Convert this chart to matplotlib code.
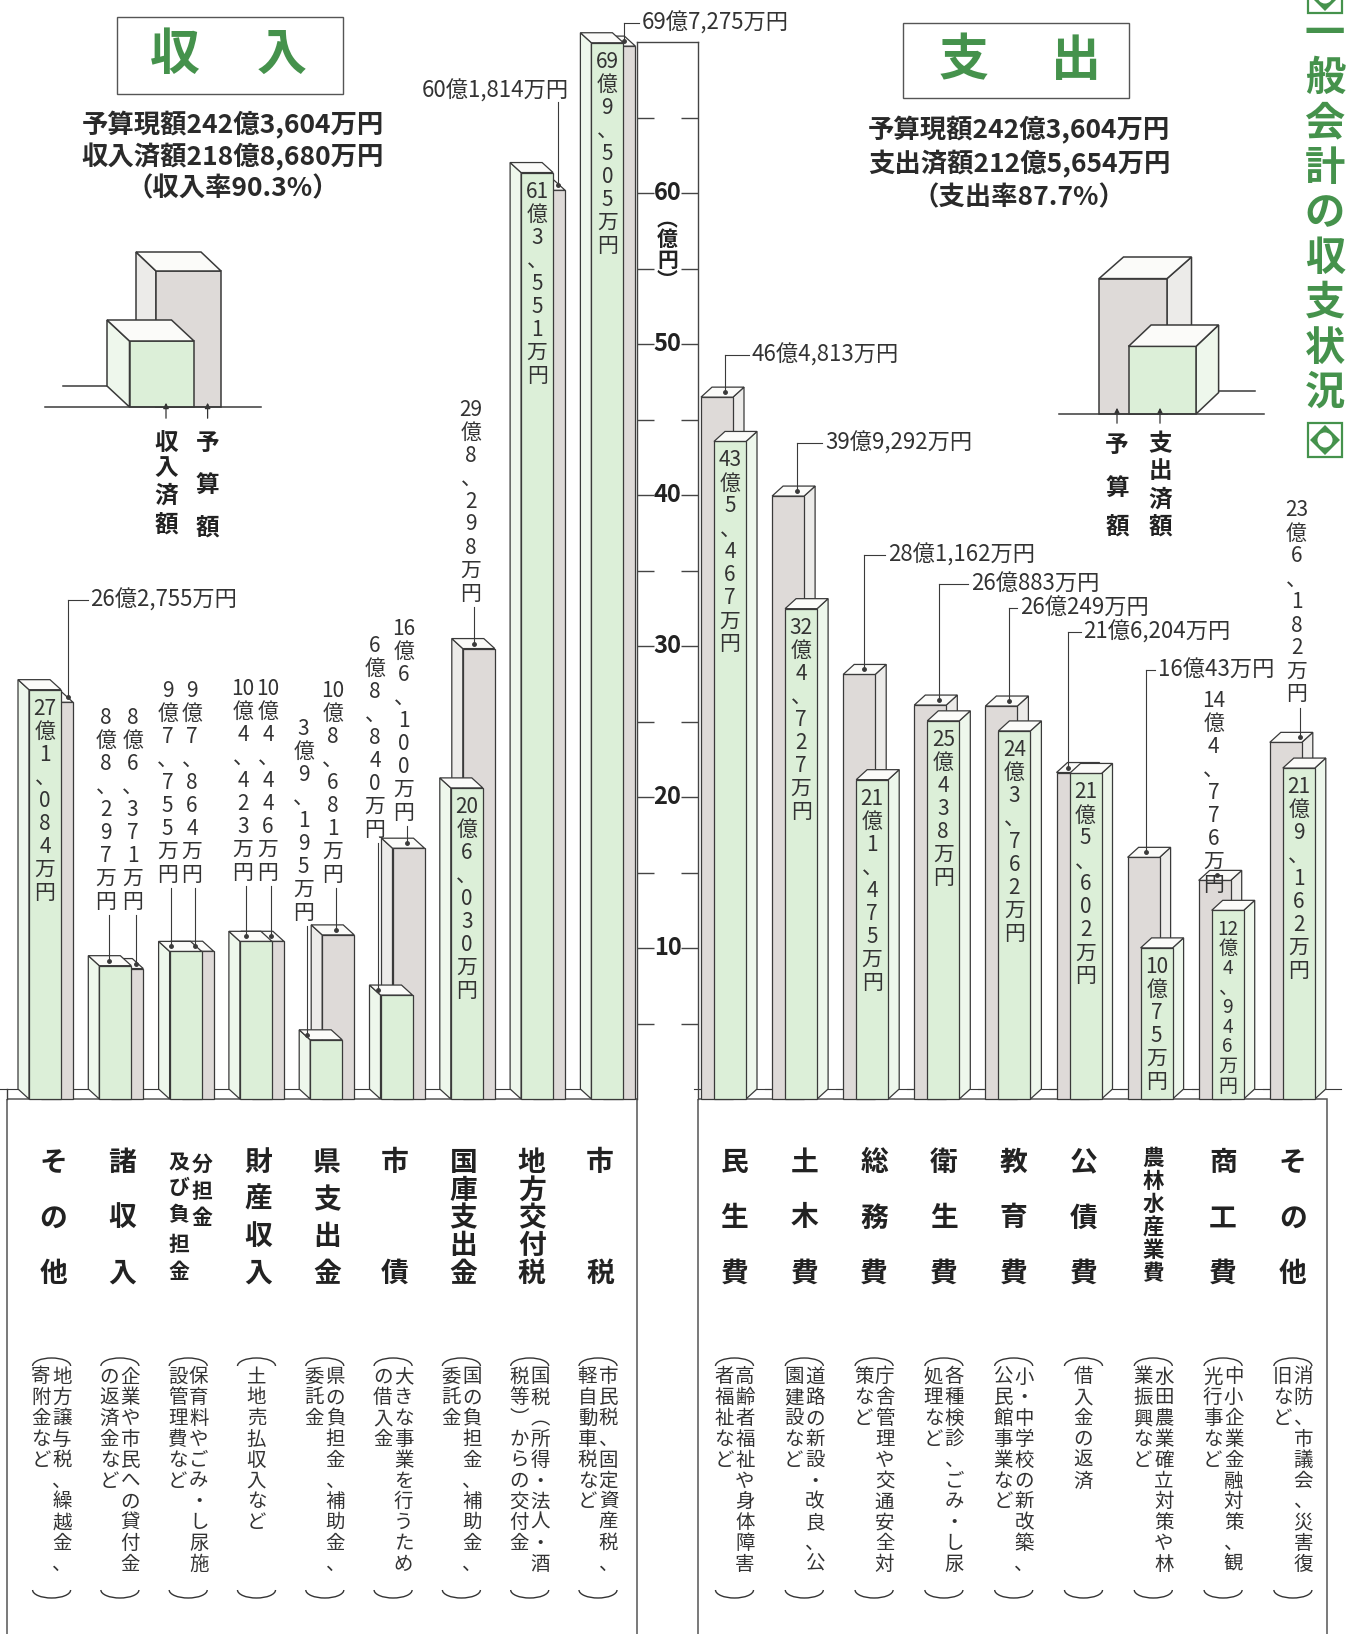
import matplotlib
matplotlib.use('Agg')
import matplotlib.pyplot as plt
import numpy as np
from matplotlib.patches import Polygon, Rectangle, Circle, Arc

plt.rcParams['font.family'] = ['Noto Sans CJK JP', 'DejaVu Sans']

# ---- データ（単位: 億円） ----
rev_cats = ['その他', '諸収入', '分担金及び負担金', '財産収入', '県支出金',
            '市債', '国庫支出金', '地方交付税', '市税']
rev_actual = [27.1084, 8.8297, 9.7755, 10.4423, 3.9195, 6.8840, 20.6030, 61.3551, 69.9505]
rev_budget = [26.2755, 8.6371, 9.7864, 10.4446, 10.8681, 16.6100, 29.8298, 60.1814, 69.7275]

exp_cats = ['民生費', '土木費', '総務費', '衛生費', '教育費', '公債費',
            '農林水産業費', '商工費', 'その他']
exp_budget = [46.4813, 39.9292, 28.1162, 26.0883, 26.0249, 21.6204, 16.0043, 14.4776, 23.6182]
exp_actual = [43.5467, 32.4727, 21.1475, 25.0438, 24.3762, 21.5602, 10.0075, 12.4946, 21.9162]

total_budget = 242.3604
total_rev = 218.8680
total_exp = 212.5654

rev_notes = [['地方譲与税、繰越金、', '寄附金など'],
             ['企業や市民への貸付金', 'の返済金など'],
             ['保育料やごみ・し尿施', '設管理費など'],
             ['土地売払収入など'],
             ['県の負担金、補助金、', '委託金'],
             ['大きな事業を行うため', 'の借入金'],
             ['国の負担金、補助金、', '委託金'],
             ['国税︵所得・法人・酒', '税等︶からの交付金'],
             ['市民税、固定資産税、', '軽自動車税など']]
exp_notes = [['高齢者福祉や身体障害', '者福祉など'],
             ['道路の新設・改良、公', '園建設など'],
             ['庁舎管理や交通安全対', '策など'],
             ['各種検診、ごみ・し尿', '処理など'],
             ['小・中学校の新改築、', '公民館事業など'],
             ['借入金の返済'],
             ['水田農業確立対策や林', '業振興など'],
             ['中小企業金融対策、観', '光行事など'],
             ['消防、市議会、災害復', '旧など']]

# ---- レイアウト (px) ----
W, H = 1346, 1634
Y0, PPU = 1099, 15.1
L_X0, L_SP = 29, 70.3
R_X0, R_SP = 701, 71.1
BW, DX, DY = 32, 11, 10

# 金額ラベルの置き方
rev_act_lab = [('in',), ('up', -9.3, 718), ('up', -18, 691), ('up', -13, 689),
               ('up', -22.6, 728.7), ('up', -21.5, 646), ('in',), ('in',), ('in',)]
rev_bud_lab = [('h', 11, 600, 22.5, 'right'), ('up', 5.3, 718), ('up', -5.6, 691),
               ('up', 0, 689), ('up', -5.6, 691), ('up', -4.5, 629), ('up', -7.8, 409.5),
               ('h', 9, 102, 11, 'left'), ('h', 4.6, 23, 18, 'right')]
exp_act_lab = [('in',)] * 9
exp_bud_lab = [('h', 8, 355, 26.5, 'right'), ('h', 9, 443, 28, 'right'),
               ('h', 5, 555, 24, 'right'), ('h', 8.6, 584, 32, 'right'),
               ('h', 8, 608, 11, 'right'), ('h', -5, 632, 16, 'right'),
               ('h', 2.4, 670, 11.5, 'right'), ('up', -1, 701), ('up', 10.7, 510.5)]

GREEN_F, GREEN_S = '#dcefd8', '#eef7ec'
GRAY_F, GRAY_S = '#dedad8', '#ecebe9'
TOP = '#fbfbf9'
EDGE = '#3a3a3a'
TXT = '#333333'
TITLE_G = '#45924c'

fig = plt.figure(figsize=(W / 100, H / 100), dpi=100)
fig.patch.set_facecolor('white')


def px_axes(x0, y0, x1, y1):
    ax = fig.add_axes([x0 / W, 1 - y1 / H, (x1 - x0) / W, (y1 - y0) / H])
    ax.set_facecolor('none')
    return ax


deco = px_axes(0, 0, W, H)
deco.set_xlim(0, W)
deco.set_ylim(H, 0)
deco.axis('off')

ax_l = px_axes(0, 0, 637, Y0)
ax_l.set_xlim(-L_X0 / L_SP, (637 - L_X0) / L_SP)
ax_r = px_axes(698, 0, W, Y0)
ax_r.set_xlim((698 - R_X0) / R_SP, (W - R_X0) / R_SP)
for ax in (ax_l, ax_r):
    ax.set_ylim(0, Y0 / PPU)
    ax.axis('off')


def vy(py):
    return (Y0 - py) / PPU


def bar3d(ax, x, w, h, dx, dy, fc_front, fc_side, z):
    front = [(x, 0), (x + w, 0), (x + w, h), (x, h)]
    top = [(x, h), (x + w, h), (x + w + dx, h + dy), (x + dx, h + dy)]
    ex = x if dx < 0 else x + w
    side = [(ex, 0), (ex, h), (ex + dx, h + dy), (ex + dx, dy)]
    for pts, fc in ((side, fc_side), (front, fc_front), (top, TOP)):
        ax.add_patch(Polygon(pts, closed=True, fc=fc, ec=EDGE, lw=0.9,
                             zorder=z, clip_on=False))


def oku_text(v):
    o = int(v)
    m = round((v - o) * 10000)
    return f'{o}億{m:,}万円'


def oku_cells(v):
    o = int(v)
    m = round((v - o) * 10000)
    return [str(o), '億'] + list(f'{m:,}'.replace(',', '、')) + ['万', '円']


def label_in(ax, xc, h):
    cells = oku_cells(h)
    n = len(cells)
    room = h * PPU - 19 - 13
    pitch = min(23, room / (n - 1))
    fs = 15 * min(1, pitch / 23 + 0.06)
    y = Y0 - h * PPU + 19
    for k, c in enumerate(cells):
        ax.text(xc, vy(y + k * pitch), c, ha='center', va='center', fontsize=fs,
                color=TXT, zorder=10, clip_on=False)


def label_up(ax, sp, xc, first_py, h, dy):
    cells = oku_cells(h)
    for k, c in enumerate(cells):
        ax.text(xc, vy(first_py + 23 * k), c, ha='center', va='center', fontsize=15,
                color=TXT, zorder=10, clip_on=False)
    y_end = vy(first_py + 23 * (len(cells) - 1) + 13)
    lxp = xc + 3 / sp
    if y_end > h + dy / 2:
        ax.plot([lxp, lxp], [y_end, h + dy / 2], color=EDGE, lw=0.8, zorder=11, clip_on=False)
    ax.plot(lxp, h + dy / 2, 'o', ms=2.5, color=EDGE, zorder=11, clip_on=False)


def label_h(ax, sp, lead_x, h, dy, top_py, text_dx, side):
    yt = vy(top_py)
    ax.plot([lead_x, lead_x], [h + dy / 2, yt], color=EDGE, lw=0.8, zorder=11, clip_on=False)
    ax.plot(lead_x, h + dy / 2, 'o', ms=2.5, color=EDGE, zorder=11, clip_on=False)
    if side == 'right':
        tx = lead_x + text_dx / sp
        ax.plot([lead_x, tx - 3 / sp], [yt, yt], color=EDGE, lw=0.8, zorder=11, clip_on=False)
        ax.text(tx, yt, oku_text(h), ha='left', va='center', fontsize=16,
                color=TXT, zorder=11, clip_on=False)
    else:
        ax.text(lead_x + text_dx / sp, vy(top_py - 11), oku_text(h), ha='right',
                va='center', fontsize=16, color=TXT, zorder=11, clip_on=False)


def put_label(ax, sp, lab, xc, h, dy):
    if lab[0] == 'in':
        label_in(ax, xc, h)
    elif lab[0] == 'up':
        label_up(ax, sp, xc + lab[1] / sp, lab[2], h, dy)
    else:
        label_h(ax, sp, xc + lab[1] / sp, h, dy, lab[2], lab[3], lab[4])


# ---- 収入の棒 ----
dy = DY / PPU
bw_l = BW / L_SP
for i in range(len(rev_cats)):
    gx = i + 12 / L_SP
    ax_l.plot([gx - 0.9, gx + 0.2], [dy, dy], color=EDGE, lw=0.8, zorder=1, clip_on=False)
    bar3d(ax_l, gx, bw_l, rev_budget[i], -DX / L_SP, dy, GRAY_F, GRAY_S, 2)
    bar3d(ax_l, i, bw_l, rev_actual[i], -DX / L_SP, dy, GREEN_F, GREEN_S, 3)
    put_label(ax_l, L_SP, rev_act_lab[i], i + bw_l / 2, rev_actual[i], dy)
    put_label(ax_l, L_SP, rev_bud_lab[i], gx + bw_l / 2, rev_budget[i], dy)

# ---- 支出の棒 ----
bw_r = BW / R_SP
for i in range(len(exp_cats)):
    gx = i + 13 / R_SP
    ax_r.plot([i - 0.1, i + 1.0], [dy, dy], color=EDGE, lw=0.8, zorder=1, clip_on=False)
    bar3d(ax_r, i, bw_r, exp_budget[i], DX / R_SP, dy, GRAY_F, GRAY_S, 2)
    bar3d(ax_r, gx, bw_r, exp_actual[i], DX / R_SP, dy, GREEN_F, GREEN_S, 3)
    put_label(ax_r, R_SP, exp_act_lab[i], gx + bw_r / 2, exp_actual[i], dy)
    put_label(ax_r, R_SP, exp_bud_lab[i], i + bw_r / 2, exp_budget[i], dy)

# ---- 中央の目盛り ----
ax_s = px_axes(637, 41.5, 698, Y0)
ax_s.set_ylim(0, (Y0 - 41.5) / PPU)
ax_s.set_xlim(0, 1)
ax_s.spines['bottom'].set_visible(False)
for s in ('left', 'right', 'top'):
    ax_s.spines[s].set_color('#444')
    ax_s.spines[s].set_linewidth(1.0)
ax_s.set_xticks([])
ax_s.set_yticks(np.arange(5, 70, 5))
ax_s.tick_params(axis='y', direction='in', length=12.5, width=1.0, color='#444',
                 left=True, right=True, labelleft=False, labelright=False)
for v in range(10, 70, 10):
    ax_s.text(0.5, v, str(v), ha='center', va='center', fontsize=17,
              fontweight='bold', color='#222')
ax_s.text(0.5, vy(250), '︵\n億\n円\n︶', ha='center', va='center', fontsize=15,
          linespacing=0.95, multialignment='center', fontweight='bold', color='#222')

# ---- 見出し ----
deco.add_patch(Rectangle((117, 17), 226, 77, fc='white', ec='#555', lw=1.0))
deco.add_patch(Rectangle((903, 23), 226, 75, fc='white', ec='#555', lw=1.0))
for ch, x, y in (('収', 175, 55), ('入', 282, 55), ('支', 964, 61), ('出', 1076, 61)):
    deco.text(x, y, ch, ha='center', va='center', fontsize=36, fontweight='bold',
              color=TITLE_G)

rev_lines = [f'予算現額{oku_text(total_budget)}', f'収入済額{oku_text(total_rev)}',
             f'（収入率{total_rev / total_budget * 100:.1f}%）']
exp_lines = [f'予算現額{oku_text(total_budget)}', f'支出済額{oku_text(total_exp)}',
             f'（支出率{total_exp / total_budget * 100:.1f}%）']
for k, t in enumerate(rev_lines):
    deco.text(233, 125 + 32 * k, t, ha='center', va='center', fontsize=19,
              fontweight='bold', color='#2a2a2a')
for k, t in enumerate(exp_lines):
    deco.text(1019, 130 + 34 * k, t, ha='center', va='center', fontsize=19,
              fontweight='bold', color='#2a2a2a')

# 右端の縦見出し
for k, ch in enumerate('一般会計の収支状況'):
    deco.text(1325, 34 + 44.9 * k, ch, ha='center', va='center', fontsize=29,
              fontweight='bold', color=TITLE_G)
for cy in (-4, 440):
    deco.add_patch(Rectangle((1308, cy - 17), 34, 34, fc='white', ec=TITLE_G, lw=1.6))
    deco.add_patch(Polygon([(1325, cy - 15), (1340, cy), (1325, cy + 15), (1310, cy)],
                           closed=True, fc=TITLE_G, ec='none'))
    deco.add_patch(Circle((1325, cy), 7.5, fc='white', ec='none'))


# ---- 凡例の立方体 ----
def cube(x0, x1, ytop, ybot, dx, dyy, fc_front, fc_side):
    front = [(x0, ybot), (x1, ybot), (x1, ytop), (x0, ytop)]
    top = [(x0, ytop), (x1, ytop), (x1 + dx, ytop + dyy), (x0 + dx, ytop + dyy)]
    ex = x0 if dx < 0 else x1
    side = [(ex, ybot), (ex, ytop), (ex + dx, ytop + dyy), (ex + dx, ybot + dyy)]
    for pts, fc in ((side, fc_side), (front, fc_front), (top, TOP)):
        deco.add_patch(Polygon(pts, closed=True, fc=fc, ec=EDGE, lw=1.1, zorder=3))


deco.plot([62.5, 107], [386, 386], color=EDGE, lw=1.1, zorder=2)
cube(156, 221, 271, 407, -20, -19, GRAY_F, GRAY_S)
cube(129.5, 194, 341, 407, -22.5, -21, GREEN_F, GREEN_S)
deco.plot([44.6, 261], [407, 407], color=EDGE, lw=1.1, zorder=4)

deco.plot([1218.6, 1254.6], [391, 391], color=EDGE, lw=1.1, zorder=2)
cube(1099, 1167, 278.6, 414, 24.5, -21.6, GRAY_F, GRAY_S)
cube(1128.5, 1196, 346.4, 414, 22.6, -21.4, GREEN_F, GREEN_S)
deco.plot([1058.7, 1263.6], [414, 414], color=EDGE, lw=1.1, zorder=4)

for x, y0 in ((166, 400), (207.6, 400), (1117, 405), (1160, 405)):
    deco.annotate('', xy=(x, y0), xytext=(x, y0 + 21),
                  arrowprops=dict(arrowstyle='-|>', lw=0.9, color='#333', mutation_scale=8))


def vstack(x, ys, text, fs, weight='bold', color='#222'):
    for ch, y in zip(text, ys):
        deco.text(x, y, ch, ha='center', va='center', fontsize=fs,
                  fontweight=weight, color=color)


vstack(166, [443, 468, 496, 525], '収入済額', 17)
vstack(207.6, [443, 485, 528], '予算額', 17)
vstack(1117, [444.6, 487.5, 526.8], '予算額', 17)
vstack(1160, [444.6, 471, 500, 527], '支出済額', 17)

# ---- 下の枠・項目名・説明 ----
deco.add_patch(Rectangle((7, Y0), 637 - 7, H - Y0 + 20, fc='none', ec='#555', lw=1.1))
deco.add_patch(Rectangle((698, Y0), 1327 - 698, H - Y0 + 20, fc='none', ec='#555', lw=1.1))
deco.plot([7, 7], [Y0 - DY, Y0], color=EDGE, lw=1.0)

rev_cat_px = [53.6 + 68.3 * i for i in range(len(rev_cats))]
exp_cat_px = [734.5 + 69.8 * i for i in range(len(exp_cats))]


def cat_label(x, name):
    if name == '分担金及び負担金':
        vstack(x + 11.5, [1164, 1191, 1218], '分担金', 15)
        vstack(x - 11.5, [1163, 1188, 1215, 1244, 1272], '及び負担金', 15)
    elif len(name) <= 5:
        vstack(x, np.linspace(1163, 1274, len(name)), name, 20)
    else:
        vstack(x, np.linspace(1158, 1274, len(name)), name, 15.5)


def note(x, lines):
    cols = [x + 10.5, x - 10.5] if len(lines) == 2 else [x]
    for cx, line in zip(cols, lines):
        vstack(cx, [1377 + 20.8 * k for k in range(len(line))], line, 14,
               weight='normal', color='#333')
    deco.add_patch(Arc((x, 1366), 38, 16, theta1=180, theta2=360, color='#333', lw=1.0))
    deco.add_patch(Arc((x, 1590), 38, 16, theta1=0, theta2=180, color='#333', lw=1.0))


for x, name, lines in zip(rev_cat_px, rev_cats, rev_notes):
    cat_label(x, name)
    note(x - 2, lines)
for x, name, lines in zip(exp_cat_px, exp_cats, exp_notes):
    cat_label(x, name)
    note(x, lines)

fig.savefig('out.png', dpi=100, facecolor='white')
